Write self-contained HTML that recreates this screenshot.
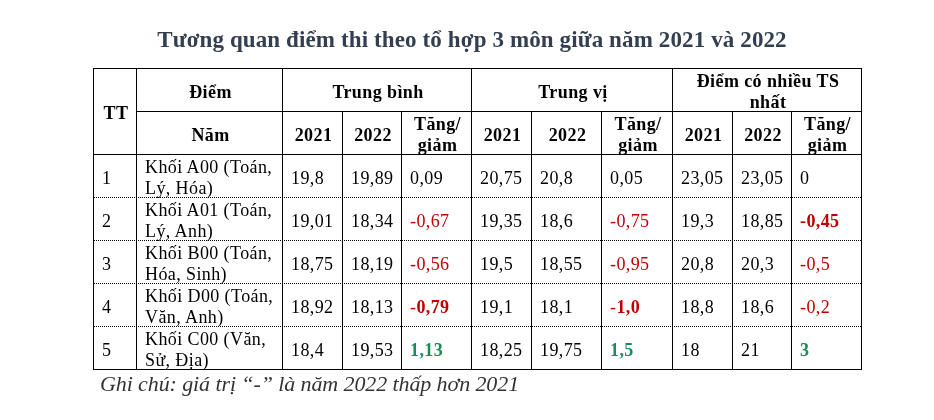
<!DOCTYPE html>
<html><head><meta charset="utf-8"><style>
*{margin:0;padding:0;box-sizing:border-box}
html,body{width:934px;height:420px;background:#fff;overflow:hidden}
body{position:relative;will-change:transform;font-family:"Liberation Serif",serif;color:#000}
.h{position:absolute;height:1px;background:#000}
.hd{position:absolute;height:1px;background:repeating-linear-gradient(90deg,#000 0 1px,transparent 1px 2px)}
.v{position:absolute;width:1px;background:#000}
.c{position:absolute;display:flex;align-items:center;font-size:18px;line-height:21px;white-space:nowrap;letter-spacing:0.4px}
.c>div{width:100%;position:relative;top:2px}
.hc{font-weight:bold;text-align:center;justify-content:center;padding:0 0 0 2px}
.dc{padding:0 0 0 8px}
.r{color:#c00000}
.g{color:#1a8c56}
.b{font-weight:bold}
.title{position:absolute;left:5px;width:934px;top:27px;text-align:center;font-size:23px;letter-spacing:0.12px;font-weight:bold;color:#333f50;white-space:nowrap}
.note{position:absolute;left:100px;top:370.5px;font-size:22px;letter-spacing:-0.1px;font-style:italic;color:#333;white-space:nowrap}
</style></head><body>
<div class="title">Tương quan điểm thi theo tổ hợp 3 môn giữa năm 2021 và 2022</div>
<div class="h" style="left:93px;top:68px;width:769px"></div><div class="h" style="left:93px;top:369px;width:769px"></div><div class="v" style="left:93px;top:68px;height:302px"></div><div class="v" style="left:136px;top:68px;height:302px"></div><div class="v" style="left:282px;top:68px;height:302px"></div><div class="v" style="left:342px;top:111px;height:259px"></div><div class="v" style="left:401px;top:111px;height:259px"></div><div class="v" style="left:471px;top:68px;height:302px"></div><div class="v" style="left:531px;top:111px;height:259px"></div><div class="v" style="left:601px;top:111px;height:259px"></div><div class="v" style="left:672px;top:68px;height:302px"></div><div class="v" style="left:732px;top:111px;height:259px"></div><div class="v" style="left:791px;top:111px;height:259px"></div><div class="v" style="left:861px;top:68px;height:302px"></div><div class="h" style="left:136px;top:111px;width:726px"></div><div class="h" style="left:93px;top:154px;width:769px"></div><div class="hd" style="left:94px;top:197px;width:767px"></div><div class="hd" style="left:94px;top:240px;width:767px"></div><div class="hd" style="left:94px;top:283px;width:767px"></div><div class="hd" style="left:94px;top:326px;width:767px"></div>
<div class="c hc" style="left:94px;top:69px;width:42px;height:85px"><div>TT</div></div><div class="c hc" style="left:137px;top:69px;width:145px;height:42px"><div>Điểm</div></div><div class="c hc" style="left:283px;top:69px;width:188px;height:42px"><div>Trung bình</div></div><div class="c hc" style="left:472px;top:69px;width:200px;height:42px"><div>Trung vị</div></div><div class="c hc" style="left:673px;top:69px;width:188px;height:42px"><div>Điểm có nhiều TS<br>nhất</div></div><div class="c hc" style="left:137px;top:112px;width:145px;height:42px"><div>Năm</div></div><div class="c hc" style="left:283px;top:112px;width:59px;height:42px"><div>2021</div></div><div class="c hc" style="left:343px;top:112px;width:58px;height:42px"><div>2022</div></div><div class="c hc" style="left:402px;top:112px;width:69px;height:42px"><div>Tăng/<br>giảm</div></div><div class="c hc" style="left:472px;top:112px;width:59px;height:42px"><div>2021</div></div><div class="c hc" style="left:532px;top:112px;width:69px;height:42px"><div>2022</div></div><div class="c hc" style="left:602px;top:112px;width:70px;height:42px"><div>Tăng/<br>giảm</div></div><div class="c hc" style="left:673px;top:112px;width:59px;height:42px"><div>2021</div></div><div class="c hc" style="left:733px;top:112px;width:58px;height:42px"><div>2022</div></div><div class="c hc" style="left:792px;top:112px;width:69px;height:42px"><div>Tăng/<br>giảm</div></div><div class="c dc" style="left:94px;top:155px;width:42px;height:42px"><div>1</div></div><div class="c dc" style="left:137px;top:155px;width:145px;height:42px"><div>Khối A00 (Toán,<br>Lý, Hóa)</div></div><div class="c dc" style="left:283px;top:155px;width:59px;height:42px"><div>19,8</div></div><div class="c dc" style="left:343px;top:155px;width:58px;height:42px"><div>19,89</div></div><div class="c dc" style="left:402px;top:155px;width:69px;height:42px"><div>0,09</div></div><div class="c dc" style="left:472px;top:155px;width:59px;height:42px"><div>20,75</div></div><div class="c dc" style="left:532px;top:155px;width:69px;height:42px"><div>20,8</div></div><div class="c dc" style="left:602px;top:155px;width:70px;height:42px"><div>0,05</div></div><div class="c dc" style="left:673px;top:155px;width:59px;height:42px"><div>23,05</div></div><div class="c dc" style="left:733px;top:155px;width:58px;height:42px"><div>23,05</div></div><div class="c dc" style="left:792px;top:155px;width:69px;height:42px"><div>0</div></div><div class="c dc" style="left:94px;top:198px;width:42px;height:42px"><div>2</div></div><div class="c dc" style="left:137px;top:198px;width:145px;height:42px"><div>Khối A01 (Toán,<br>Lý, Anh)</div></div><div class="c dc" style="left:283px;top:198px;width:59px;height:42px"><div>19,01</div></div><div class="c dc" style="left:343px;top:198px;width:58px;height:42px"><div>18,34</div></div><div class="c dc" style="left:402px;top:198px;width:69px;height:42px"><div><span class="r">-0,67</span></div></div><div class="c dc" style="left:472px;top:198px;width:59px;height:42px"><div>19,35</div></div><div class="c dc" style="left:532px;top:198px;width:69px;height:42px"><div>18,6</div></div><div class="c dc" style="left:602px;top:198px;width:70px;height:42px"><div><span class="r">-0,75</span></div></div><div class="c dc" style="left:673px;top:198px;width:59px;height:42px"><div>19,3</div></div><div class="c dc" style="left:733px;top:198px;width:58px;height:42px"><div>18,85</div></div><div class="c dc" style="left:792px;top:198px;width:69px;height:42px"><div><span class="r b">-0,45</span></div></div><div class="c dc" style="left:94px;top:241px;width:42px;height:42px"><div>3</div></div><div class="c dc" style="left:137px;top:241px;width:145px;height:42px"><div>Khối B00 (Toán,<br>Hóa, Sinh)</div></div><div class="c dc" style="left:283px;top:241px;width:59px;height:42px"><div>18,75</div></div><div class="c dc" style="left:343px;top:241px;width:58px;height:42px"><div>18,19</div></div><div class="c dc" style="left:402px;top:241px;width:69px;height:42px"><div><span class="r">-0,56</span></div></div><div class="c dc" style="left:472px;top:241px;width:59px;height:42px"><div>19,5</div></div><div class="c dc" style="left:532px;top:241px;width:69px;height:42px"><div>18,55</div></div><div class="c dc" style="left:602px;top:241px;width:70px;height:42px"><div><span class="r">-0,95</span></div></div><div class="c dc" style="left:673px;top:241px;width:59px;height:42px"><div>20,8</div></div><div class="c dc" style="left:733px;top:241px;width:58px;height:42px"><div>20,3</div></div><div class="c dc" style="left:792px;top:241px;width:69px;height:42px"><div><span class="r">-0,5</span></div></div><div class="c dc" style="left:94px;top:284px;width:42px;height:42px"><div>4</div></div><div class="c dc" style="left:137px;top:284px;width:145px;height:42px"><div>Khối D00 (Toán,<br>Văn, Anh)</div></div><div class="c dc" style="left:283px;top:284px;width:59px;height:42px"><div>18,92</div></div><div class="c dc" style="left:343px;top:284px;width:58px;height:42px"><div>18,13</div></div><div class="c dc" style="left:402px;top:284px;width:69px;height:42px"><div><span class="r">-<b>0,79</b></span></div></div><div class="c dc" style="left:472px;top:284px;width:59px;height:42px"><div>19,1</div></div><div class="c dc" style="left:532px;top:284px;width:69px;height:42px"><div>18,1</div></div><div class="c dc" style="left:602px;top:284px;width:70px;height:42px"><div><span class="r">-<b>1,0</b></span></div></div><div class="c dc" style="left:673px;top:284px;width:59px;height:42px"><div>18,8</div></div><div class="c dc" style="left:733px;top:284px;width:58px;height:42px"><div>18,6</div></div><div class="c dc" style="left:792px;top:284px;width:69px;height:42px"><div><span class="r">-0,2</span></div></div><div class="c dc" style="left:94px;top:327px;width:42px;height:42px"><div>5</div></div><div class="c dc" style="left:137px;top:327px;width:145px;height:42px"><div>Khối C00 (Văn,<br>Sử, Địa)</div></div><div class="c dc" style="left:283px;top:327px;width:59px;height:42px"><div>18,4</div></div><div class="c dc" style="left:343px;top:327px;width:58px;height:42px"><div>19,53</div></div><div class="c dc" style="left:402px;top:327px;width:69px;height:42px"><div><span class="g b">1,13</span></div></div><div class="c dc" style="left:472px;top:327px;width:59px;height:42px"><div>18,25</div></div><div class="c dc" style="left:532px;top:327px;width:69px;height:42px"><div>19,75</div></div><div class="c dc" style="left:602px;top:327px;width:70px;height:42px"><div><span class="g b">1,5</span></div></div><div class="c dc" style="left:673px;top:327px;width:59px;height:42px"><div>18</div></div><div class="c dc" style="left:733px;top:327px;width:58px;height:42px"><div>21</div></div><div class="c dc" style="left:792px;top:327px;width:69px;height:42px"><div><span class="g b">3</span></div></div>
<div class="note">Ghi chú: giá trị “-” là năm 2022 thấp hơn 2021</div>
</body></html>
